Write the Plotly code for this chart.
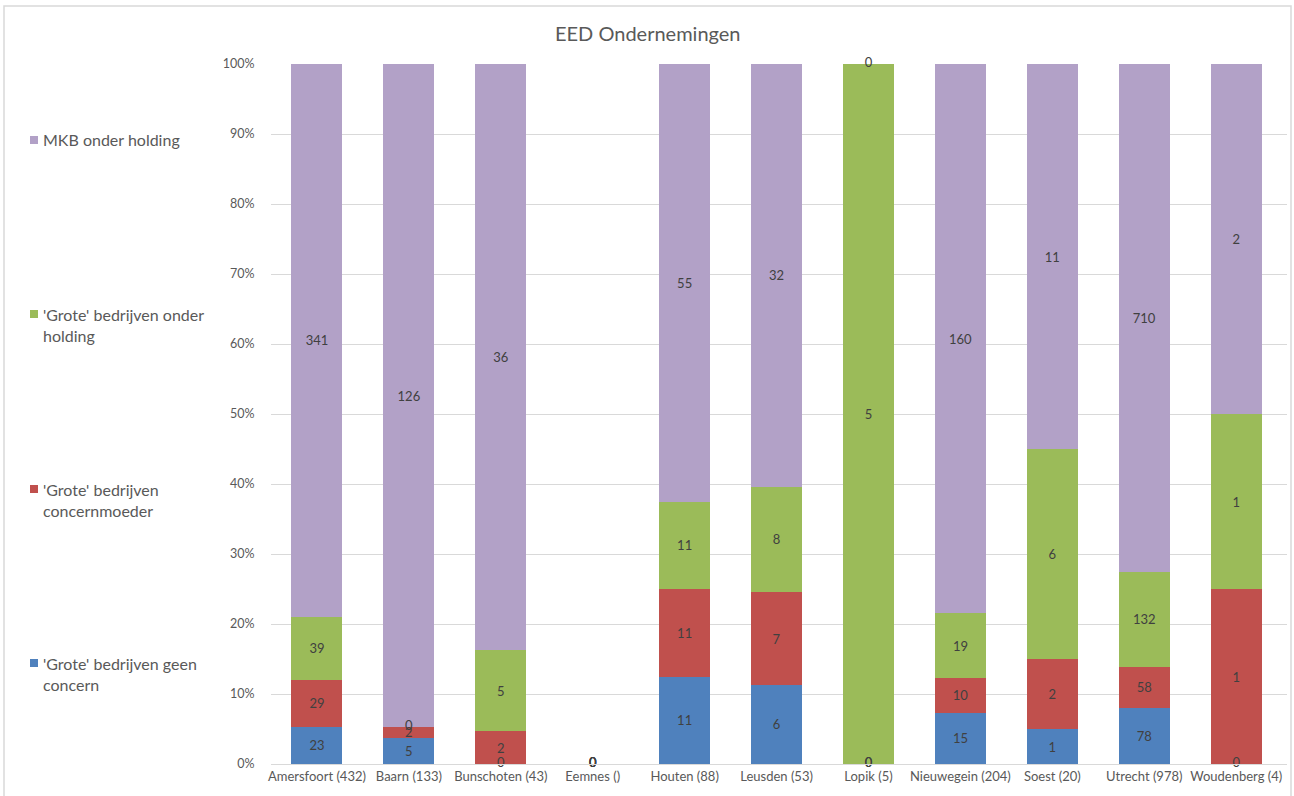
import plotly.graph_objects as go

categories = ["Amersfoort (432)", "Baarn (133)", "Bunschoten (43)", "Eemnes ()", "Houten (88)",
              "Leusden (53)", "Lopik (5)", "Nieuwegein (204)", "Soest (20)", "Utrecht (978)", "Woudenberg (4)"]
geen_concern = [23, 5, 0, 0, 11, 6, 0, 15, 1, 78, 0]
concernmoeder = [29, 2, 2, 0, 11, 7, 0, 10, 2, 58, 1]
grote_holding = [39, 0, 5, 0, 11, 8, 5, 19, 6, 132, 1]
mkb_holding = [341, 126, 36, 0, 55, 32, 0, 160, 11, 710, 2]

series = [
    ("'Grote' bedrijven geen concern", "'Grote' bedrijven geen<br>concern", geen_concern, "#4F81BD"),
    ("'Grote' bedrijven concernmoeder", "'Grote' bedrijven<br>concernmoeder", concernmoeder, "#C0504D"),
    ("'Grote' bedrijven onder holding", "'Grote' bedrijven onder<br>holding", grote_holding, "#9BBB59"),
    ("MKB onder holding", "MKB onder holding", mkb_holding, "#B2A1C7"),
]

totals = [sum(v) for v in zip(*[s[2] for s in series])]

W, H = 1294, 796
L, R, T, B = 271, 1287, 64, 764
FONT = "Lato, 'Open Sans', sans-serif"
TXT = "#404040"
AX = "#595959"

fig = go.Figure()
cum = [0.0] * len(categories)
zero_x, zero_y, zero_t = [], [], []
for name, _, vals, color in series:
    pct = [(v / t * 100) if t else 0 for v, t in zip(vals, totals)]
    for i, v in enumerate(vals):
        if v == 0:
            zero_x.append(categories[i])
            zero_y.append(cum[i])
            zero_t.append("0")
    fig.add_trace(go.Bar(
        x=categories, y=pct, name=name, marker=dict(color=color, line=dict(width=0)),
        text=[str(v) if v else "" for v in vals], textposition="inside",
        insidetextanchor="middle", textangle=0,
        textfont=dict(color=TXT, size=13, family=FONT), showlegend=False,
        hovertemplate="%{x}<br>" + name + ": %{text}<extra></extra>",
    ))
    cum = [c + p for c, p in zip(cum, pct)]

fig.add_trace(go.Scatter(
    x=zero_x, y=zero_y, text=zero_t, mode="text", textposition="middle center",
    textfont=dict(color=TXT, size=13, family=FONT), showlegend=False, cliponaxis=False,
    hoverinfo="skip",
))

def px(x):
    return (x - L) / (R - L)

def py(y):
    return (B - y) / (B - T)

annotations = [dict(text="EED Ondernemingen", x=px(648), y=py(33), xref="paper", yref="paper",
                    showarrow=False, font=dict(size=20, color=AX, family=FONT),
                    xanchor="center", yanchor="middle")]
shapes = [dict(type="rect", xref="paper", yref="paper", x0=px(4), x1=px(1291), y0=py(6), y1=py(805),
               line=dict(color="#D9D9D9", width=1.5), fillcolor="rgba(0,0,0,0)", layer="below")]

legend_pos = {"MKB onder holding": (140, 140),
              "'Grote' bedrijven onder holding": (314, 335),
              "'Grote' bedrijven concernmoeder": (489, 510),
              "'Grote' bedrijven geen concern": (663, 684)}
for name, label, _, color in series:
    y1, y2 = legend_pos[name]
    yc = (y1 + y2) / 2
    annotations.append(dict(text=label, x=px(41), y=py(yc), xref="paper", yref="paper",
                            showarrow=False, align="left", xanchor="left", yanchor="middle",
                            font=dict(size=16, color=AX, family=FONT)))
    shapes.append(dict(type="rect", xref="paper", yref="paper",
                       x0=px(30), x1=px(38), y0=py(y1 + 4), y1=py(y1 - 4),
                       fillcolor=color, line=dict(width=0)))

fig.update_layout(
    barmode="stack", bargap=0.445,
    width=W, height=H, autosize=False,
    margin=dict(l=L, r=W - R, t=T, b=H - B, pad=0),
    plot_bgcolor="white", paper_bgcolor="white",
    font=dict(family=FONT, color=AX, size=12),
    uniformtext=dict(minsize=13, mode="show"),
    annotations=annotations, shapes=shapes,
    xaxis=dict(showgrid=False, showline=True, linecolor="#D9D9D9", linewidth=1,
               ticks="", tickfont=dict(size=13, color=AX, family=FONT)),
    yaxis=dict(range=[0, 100], dtick=10, ticksuffix="%", showgrid=True, gridcolor="#D9D9D9",
               gridwidth=1, zeroline=False, ticks="outside", ticklen=13, tickcolor="rgba(0,0,0,0)",
               tickfont=dict(size=12.5, color=AX, family=FONT)),
)

fig.write_html("out.html", config={"displayModeBar": False},
               post_script="document.body.style.margin='0';document.body.style.overflow='hidden';")
